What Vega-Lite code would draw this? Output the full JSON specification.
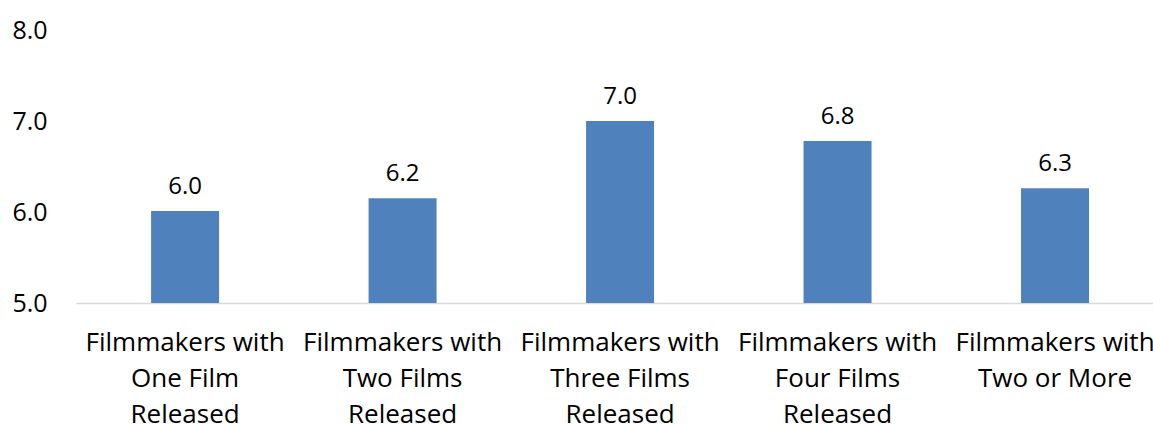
{
  "$schema": "https://vega.github.io/schema/vega-lite/v6.json",
  "autosize": {"type": "none"},
  "width": 1077,
  "height": 273,
  "padding": {"left": 76, "top": 30, "right": 0, "bottom": 121},
  "background": "white",
  "config": {"view": {"stroke": null}, "font": "Open Sans"},
  "data": {"values": [
    {"group": "Filmmakers with|One Film|Released", "value": 6.01, "label": "6.0"},
    {"group": "Filmmakers with|Two Films|Released", "value": 6.15, "label": "6.2"},
    {"group": "Filmmakers with|Three Films|Released", "value": 7.0, "label": "7.0"},
    {"group": "Filmmakers with|Four Films|Released", "value": 6.78, "label": "6.8"},
    {"group": "Filmmakers with|Two or More", "value": 6.26, "label": "6.3"}
  ]},
  "encoding": {
    "x": {
      "field": "group", "type": "nominal", "sort": null,
      "scale": {"paddingInner": 0.6874, "paddingOuter": 0.3197, "align": 0.54},
      "axis": {
        "title": null, "labelAngle": 0, "ticks": false,
        "domainColor": "#d9d9d9", "domainWidth": 1.5,
        "labelExpr": "split(datum.label, '|')",
        "labelFontSize": 26, "labelColor": "#000000",
        "labelLineHeight": 36, "labelPadding": 26,
        "labelBaseline": "top", "labelLimit": 400
      }
    },
    "y": {
      "field": "value", "type": "quantitative",
      "scale": {"domain": [5, 8], "nice": false, "zero": false},
      "axis": {
        "title": null, "values": [5, 6, 7, 8], "format": ".1f",
        "grid": false, "domain": false, "ticks": false,
        "labelFontSize": 25, "labelColor": "#000000",
        "labelAlign": "left", "labelPadding": 64
      }
    }
  },
  "layer": [
    {"mark": {"type": "bar", "color": "#4f81bd", "clip": true}},
    {"mark": {"type": "text", "fontSize": 24, "color": "#000000", "baseline": "alphabetic", "dy": -17},
     "encoding": {"text": {"field": "label"}}}
  ]
}
